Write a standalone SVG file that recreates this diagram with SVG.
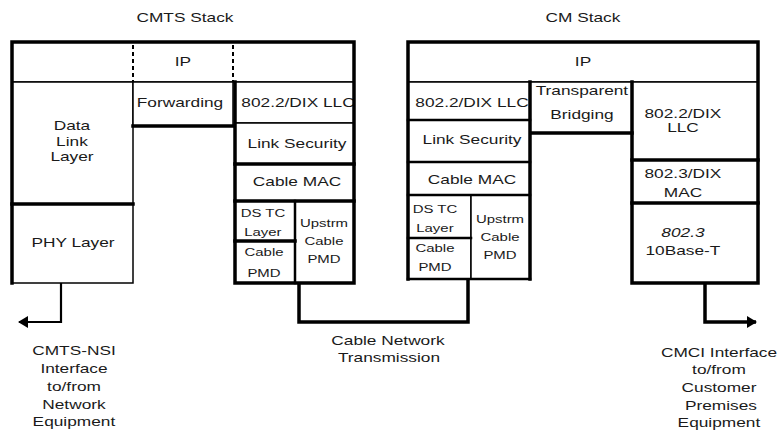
<svg xmlns="http://www.w3.org/2000/svg" width="781" height="435" viewBox="0 0 781 435">
<style>
.bg{fill:#fff}
.c{fill:#fff;stroke:#000;stroke-width:1.5}
.k{fill:none;stroke:#000;stroke-width:3.5;stroke-linecap:square}
.m{fill:none;stroke:#000;stroke-width:2.5;stroke-linecap:square}
.d{fill:none;stroke:#000;stroke-width:2;stroke-dasharray:4 3}
.t{font-family:"Liberation Sans",Arial,sans-serif;font-size:13.5px;fill:#1a1a1a;text-anchor:middle;transform-box:fill-box;transform-origin:center;transform:scaleX(1.28)}
.s{font-family:"Liberation Sans",Arial,sans-serif;font-size:11.5px;fill:#1a1a1a;text-anchor:middle;transform-box:fill-box;transform-origin:center;transform:scaleX(1.3)}
.i{font-style:italic}
.w{fill:none;stroke:#000;stroke-width:2.2}
.wk{fill:none;stroke:#000;stroke-width:3.5}
</style>
<defs>
<marker id="ah" viewBox="0 0 10 12" refX="9" refY="6" markerWidth="10" markerHeight="12" markerUnits="userSpaceOnUse" orient="auto">
<path d="M0,0 L10,6 L0,12 z" fill="#000"/>
</marker>
</defs>
<rect class="bg" x="0" y="0" width="781" height="435"/>

<text class="t" x="185" y="22">CMTS Stack</text>
<text class="t" x="583" y="22">CM Stack</text>

<g id="cmts">
<g id="cmts-ip"><rect class="c" x="12" y="42" width="342" height="40"/><text class="t" x="183" y="66">IP</text></g>
<g id="cmts-dll"><rect class="c" x="12" y="82" width="121" height="122"/><text class="t" x="72" y="130">Data</text><text class="t" x="72" y="146">Link</text><text class="t" x="72" y="161">Layer</text></g>
<g id="cmts-phy"><rect class="c" x="12" y="204" width="121" height="79"/><text class="t" x="73" y="247">PHY Layer</text></g>
<g id="cmts-fwd"><rect class="c" x="133" y="82" width="100" height="44"/><text class="t" x="180" y="107">Forwarding</text></g>
<g id="cmts-llc"><rect class="c" x="235" y="82" width="119" height="41"/><text class="t" x="298" y="107">802.2/DIX LLC</text></g>
<g id="cmts-sec"><rect class="c" x="235" y="123" width="119" height="41"/><text class="t" x="297" y="148">Link Security</text></g>
<g id="cmts-mac"><rect class="c" x="235" y="164" width="119" height="37"/><text class="t" x="297" y="186">Cable MAC</text></g>
<g id="cmts-dstc"><rect class="c" x="235" y="201" width="60" height="40"/><text class="s" x="263" y="217">DS TC</text><text class="s" x="263" y="236">Layer</text></g>
<g id="cmts-pmd"><rect class="c" x="235" y="241" width="60" height="42"/><text class="s" x="264" y="256">Cable</text><text class="s" x="264" y="277">PMD</text></g>
<g id="cmts-up"><rect class="c" x="295" y="201" width="59" height="82"/><text class="s" x="324" y="227">Upstrm</text><text class="s" x="324" y="245">Cable</text><text class="s" x="324" y="263">PMD</text></g>
<path class="k" d="M12,283 V42 H354 V283 H235 V82"/>
<path class="k" d="M12,204 H133 M133,126 H233 M235,164 H354 M235,201 H354 M235,241 H295"/>
<path class="m" d="M295,201 V283"/>
<line x1="133" y1="44" x2="133" y2="81" stroke="#fff" stroke-width="2"/>
<line x1="233" y1="44" x2="233" y2="81" stroke="#fff" stroke-width="2"/>
<path class="d" d="M133,45 V82 M233,45 V82"/>
</g>

<g id="cm">
<g id="cm-ip"><rect class="c" x="408" y="42" width="350" height="40"/><text class="t" x="583" y="66">IP</text></g>
<g id="cm-llc"><rect class="c" x="408" y="82" width="122" height="38"/><text class="t" x="472" y="107">802.2/DIX LLC</text></g>
<g id="cm-sec"><rect class="c" x="408" y="120" width="122" height="42"/><text class="t" x="472" y="144">Link Security</text></g>
<g id="cm-mac"><rect class="c" x="408" y="162" width="122" height="33"/><text class="t" x="472" y="184">Cable MAC</text></g>
<g id="cm-dstc"><rect class="c" x="408" y="195" width="63" height="43"/><text class="s" x="435" y="213">DS TC</text><text class="s" x="435" y="232">Layer</text></g>
<g id="cm-pmd"><rect class="c" x="408" y="238" width="63" height="41"/><text class="s" x="435" y="252">Cable</text><text class="s" x="435" y="271">PMD</text></g>
<g id="cm-up"><rect class="c" x="471" y="195" width="59" height="84"/><text class="s" x="500" y="223">Upstrm</text><text class="s" x="500" y="241">Cable</text><text class="s" x="500" y="259">PMD</text></g>
<g id="cm-bridge"><rect class="c" x="530" y="82" width="102" height="51"/><text class="t" x="582" y="95">Transparent</text><text class="t" x="582" y="119">Bridging</text></g>
<g id="cm-llc2"><rect class="c" x="632" y="82" width="126" height="78"/><text class="t" x="683" y="118">802.2/DIX</text><text class="t" x="683" y="132">LLC</text></g>
<g id="cm-mac2"><rect class="c" x="632" y="160" width="126" height="43"/><text class="t" x="683" y="178">802.3/DIX</text><text class="t" x="683" y="197">MAC</text></g>
<g id="cm-10bt"><rect class="c" x="632" y="203" width="126" height="80"/><text class="t i" x="683" y="237">802.3</text><text class="t" x="683" y="255">10Base-T</text></g>
<path class="k" d="M408,279 V42 H758 V283 H632 V82"/>
<path class="k" d="M530,82 V279 M530,133 H632 M632,160 H758 M632,203 H758"/>
<path class="m" d="M408,279 H530 M408,120 H530 M408,162 H530 M408,195 H530 M408,238 H471"/>
</g>

<g id="connectors">
<path class="w" d="M61,283 V322 H19" marker-end="url(#ah)"/>
<path class="wk" d="M299,283 V322 H468 V279"/>
<path class="wk" d="M705,283 V322 H756" marker-end="url(#ah)"/>
</g>

<g id="labels">
<text class="t" x="74" y="355">CMTS-NSI</text>
<text class="t" x="74" y="373">Interface</text>
<text class="t" x="74" y="391">to/from</text>
<text class="t" x="74" y="409">Network</text>
<text class="t" x="74" y="426">Equipment</text>
<text class="t" x="388" y="345">Cable Network</text>
<text class="t" x="389" y="362">Transmission</text>
<text class="t" x="719" y="357">CMCI Interface</text>
<text class="t" x="719" y="374">to/from</text>
<text class="t" x="719" y="392">Customer</text>
<text class="t" x="721" y="410">Premises</text>
<text class="t" x="719" y="427">Equipment</text>
</g>
</svg>
